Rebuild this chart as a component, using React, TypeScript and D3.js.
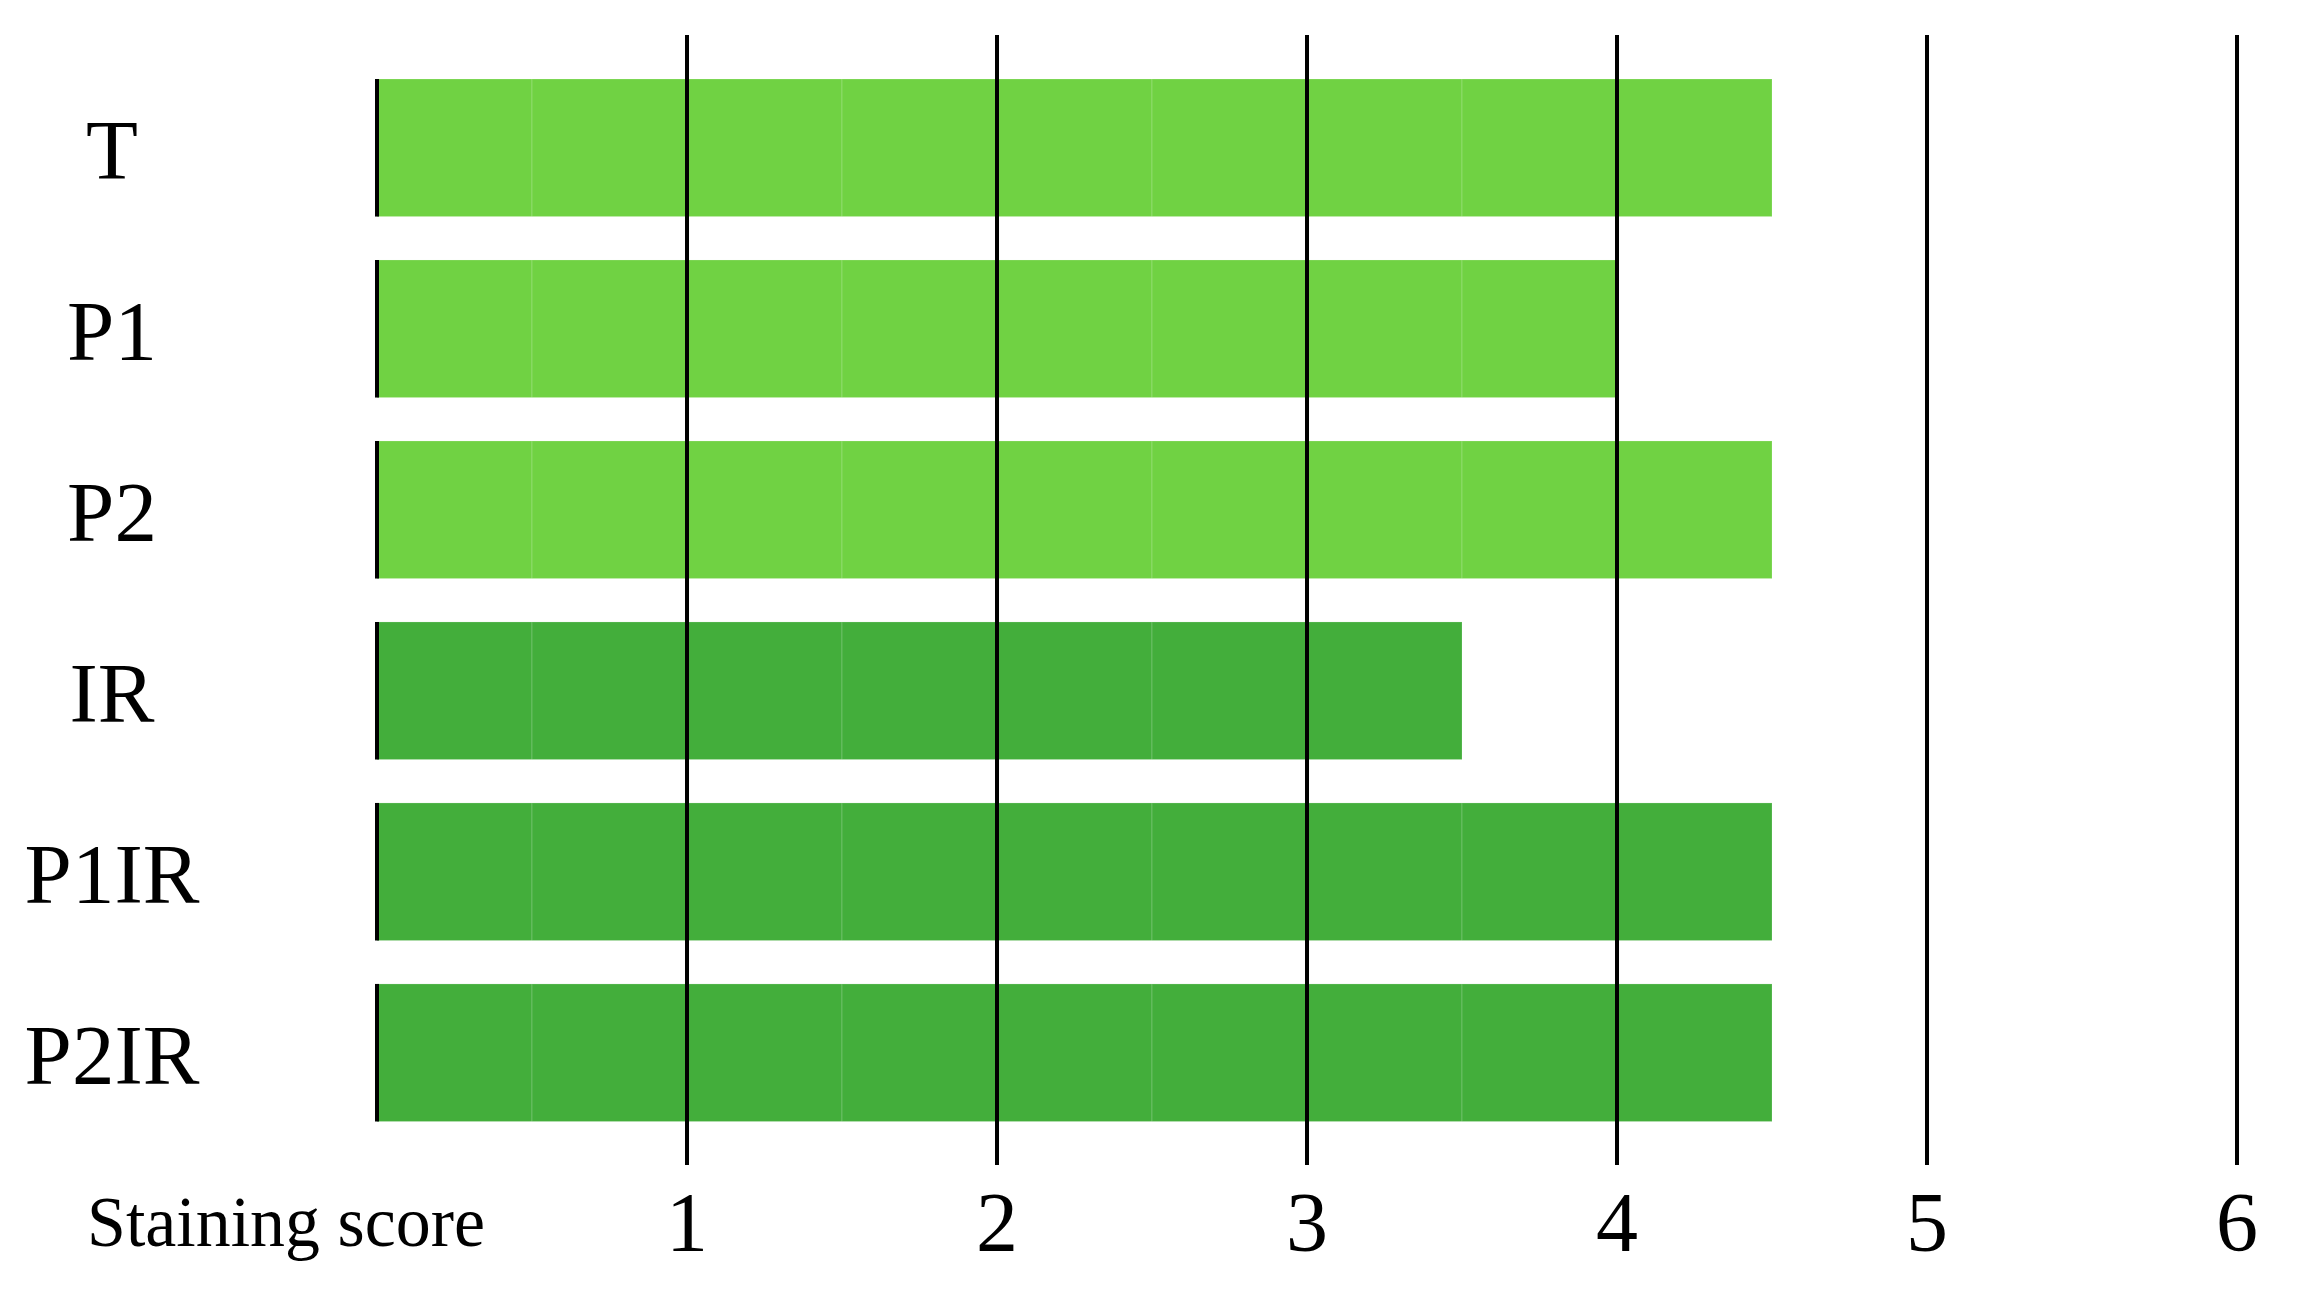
import React from "react";
import * as d3 from "d3";

const categories = ["T", "P1", "P2", "IR", "P1IR", "P2IR"];
const scores = [4.5, 4, 4.5, 3.5, 4.5, 4.5];
const groups = ["light", "light", "light", "dark", "dark", "dark"];
const tickValues = [1, 2, 3, 4, 5, 6];
const axisTitle = "Staining score";
const segmentStep = 0.5;

const W = 2300;
const H = 1300;
const colors: Record<string, string> = { light: "#70D243", dark: "#43AE3B" };
const FONT = "'Liberation Serif', 'DejaVu Serif', serif";

export default function App() {
  const x = d3.scaleLinear().domain([0, 6]).range([377, 2237]);
  const y = d3
    .scaleBand<string>()
    .domain(categories)
    .range([79, 1121.5])
    .paddingInner(0.24)
    .paddingOuter(0);
  const bw = y.bandwidth();

  return (
    <svg
      width={W}
      height={H}
      style={{ position: "absolute", left: 0, top: 0, background: "#fff" }}
    >
      <rect x={0} y={0} width={W} height={H} fill="#fff" />
      {categories.map((c, i) => {
        const y0 = y(c) as number;
        const segs = d3.range(0, scores[i] - 1e-9, segmentStep);
        return (
          <g key={c}>
            {segs.map((s) => (
              <rect
                key={s}
                x={x(s)}
                y={y0}
                width={x(Math.min(s + segmentStep, scores[i])) - x(s)}
                height={bw}
                fill={colors[groups[i]]}
                stroke="rgba(255,255,255,0.18)"
                strokeWidth={1}
              />
            ))}
            <line
              x1={x(0)}
              x2={x(0)}
              y1={y0}
              y2={y0 + bw}
              stroke="#000"
              strokeWidth={4}
            />
            <text
              x={112}
              y={y0 + bw / 2 + 31}
              textAnchor="middle"
              fontFamily={FONT}
              fontSize={85}
              fill="#000"
            >
              {c}
            </text>
          </g>
        );
      })}
      {tickValues.map((t) => (
        <g key={t}>
          <line
            x1={x(t)}
            x2={x(t)}
            y1={35}
            y2={1165}
            stroke="#000"
            strokeWidth={4}
          />
          <text
            x={x(t)}
            y={1251}
            textAnchor="middle"
            fontFamily={FONT}
            fontSize={84}
            fill="#000"
          >
            {t}
          </text>
        </g>
      ))}
      <text
        x={87}
        y={1246}
        fontFamily={FONT}
        fontSize={71}
        textLength={398}
        lengthAdjust="spacingAndGlyphs"
        fill="#000"
      >
        {axisTitle}
      </text>
    </svg>
  );
}
